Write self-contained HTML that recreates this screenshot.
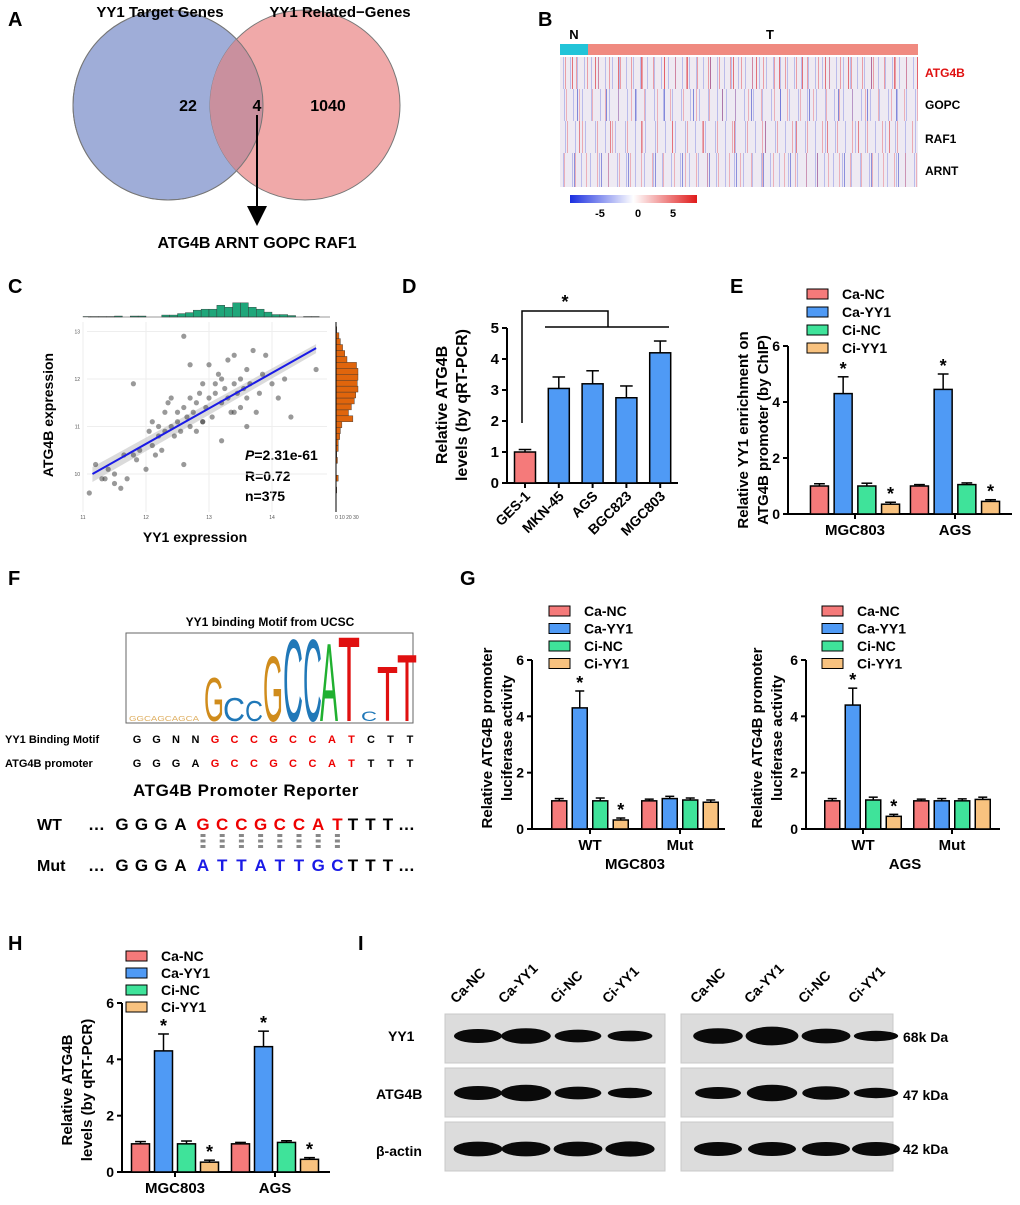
<!DOCTYPE html>
<html><head><meta charset="utf-8">
<style>
html,body{margin:0;padding:0;background:#fff;}
body{width:1020px;height:1205px;position:relative;overflow:hidden;font-family:"Liberation Sans",Arial,sans-serif;}
svg text{font-family:"Liberation Sans",Arial,sans-serif;}
.hm{position:absolute;left:560px;width:358px;height:32px;}
</style></head>
<body>
<div class="hm" style="top:57px;background:repeating-linear-gradient(90deg,transparent 0 5px,rgba(230,80,90,.5) 5px 6px,transparent 6px 11px),repeating-linear-gradient(90deg,transparent 0 3px,rgba(90,100,220,.35) 3px 4px,transparent 4px 7px),repeating-linear-gradient(90deg,transparent 0 12px,rgba(220,60,70,.7) 12px 13px,transparent 13px 23px),#efeaf2;"></div>
<div class="hm" style="top:89px;background:repeating-linear-gradient(90deg,transparent 0 4px,rgba(90,100,220,.35) 4px 5px,transparent 5px 9px),repeating-linear-gradient(90deg,transparent 0 6px,rgba(230,90,100,.4) 6px 7px,transparent 7px 13px),repeating-linear-gradient(90deg,transparent 0 17px,rgba(60,70,200,.6) 17px 18px,transparent 18px 29px),#eeeaf3;"></div>
<div class="hm" style="top:121px;background:repeating-linear-gradient(90deg,transparent 0 5px,rgba(90,100,220,.35) 5px 6px,transparent 6px 10px),repeating-linear-gradient(90deg,transparent 0 7px,rgba(230,90,100,.45) 7px 8px,transparent 8px 15px),repeating-linear-gradient(90deg,transparent 0 19px,rgba(220,60,70,.6) 19px 20px,transparent 20px 31px),#eeeaf3;"></div>
<div class="hm" style="top:153px;height:34px;background:repeating-linear-gradient(90deg,transparent 0 4px,rgba(230,90,100,.4) 4px 5px,transparent 5px 11px),repeating-linear-gradient(90deg,transparent 0 3px,rgba(90,100,220,.35) 3px 4px,transparent 4px 9px),repeating-linear-gradient(90deg,transparent 0 14px,rgba(60,70,200,.55) 14px 15px,transparent 15px 27px),#eeeaf3;"></div>

<svg id="fig" width="1020" height="1205" viewBox="0 0 1020 1205" style="position:absolute;left:0;top:0" font-weight="bold">
<defs>
<linearGradient id="cb" x1="0" x2="1"><stop offset="0" stop-color="#1a2ee0"/><stop offset="0.5" stop-color="#fff"/><stop offset="1" stop-color="#e01a1a"/></linearGradient>
</defs>
<g font-size="20">
<text x="8" y="26">A</text><text x="538" y="26">B</text><text x="8" y="293">C</text><text x="402" y="293">D</text>
<text x="730" y="293">E</text><text x="8" y="585">F</text><text x="460" y="585">G</text><text x="8" y="950">H</text><text x="358" y="950">I</text>
</g>
<g>
<circle cx="168" cy="105" r="95" fill="#9fadd8" stroke="#777" stroke-width="1"/>
<circle cx="305" cy="105" r="95" fill="#eea0a0" fill-opacity="0.9" stroke="#777" stroke-width="1"/>
<path d="M236.5,39 A95,95 0 0 1 236.5,171 A95,95 0 0 1 236.5,39Z" fill="#c9909e"/>
<circle cx="168" cy="105" r="95" fill="none" stroke="#777" stroke-width="1"/>
<text x="160" y="17" font-size="15" text-anchor="middle">YY1 Target Genes</text>
<text x="340" y="17" font-size="15" text-anchor="middle">YY1 Related−Genes</text>
<text x="188" y="111" font-size="16" text-anchor="middle">22</text>
<text x="257" y="111" font-size="16" text-anchor="middle">4</text>
<text x="328" y="111" font-size="16" text-anchor="middle">1040</text>
<line x1="257" y1="115" x2="257" y2="208" stroke="#000" stroke-width="2"/>
<polygon points="247,206 267,206 257,226" fill="#000"/>
<text x="257" y="248" font-size="16" text-anchor="middle">ATG4B ARNT GOPC RAF1</text>
</g>
<g>
<rect x="560" y="44" width="28" height="11" fill="#22c4d8"/>
<rect x="588" y="44" width="330" height="11" fill="#f08a80"/>
<text x="574" y="39" font-size="13" text-anchor="middle">N</text>
<text x="770" y="39" font-size="13" text-anchor="middle">T</text>
<text x="925" y="77" font-size="12" fill="#e01010">ATG4B</text>
<text x="925" y="109" font-size="12">GOPC</text>
<text x="925" y="143" font-size="12">RAF1</text>
<text x="925" y="175" font-size="12">ARNT</text>
<rect x="570" y="195" width="127" height="8" fill="url(#cb)"/>
<text x="600" y="217" font-size="11" text-anchor="middle">-5</text>
<text x="638" y="217" font-size="11" text-anchor="middle">0</text>
<text x="673" y="217" font-size="11" text-anchor="middle">5</text>
</g>
<g id="scatter">
<rect x="87" y="322" width="240" height="190" fill="#fff"/>
<text transform="translate(53,415) rotate(-90)" font-size="14" text-anchor="middle">ATG4B expression</text>
<text x="195" y="542" font-size="14" text-anchor="middle">YY1 expression</text>
<text x="245" y="460" font-size="14"><tspan font-style="italic">P</tspan>=2.31e-61</text>
<text x="245" y="481" font-size="14">R=0.72</text>
<text x="245" y="501" font-size="14">n=375</text>
</g>
<g>
<text x="270" y="626" font-size="12" text-anchor="middle">YY1 binding Motif from UCSC</text>
<rect x="126" y="633" width="287" height="90" fill="none" stroke="#666" stroke-width="1"/>
<g font-weight="normal">
<text x="129" y="721" font-size="7" fill="#d08c1c" fill-opacity="0.7" textLength="70" lengthAdjust="spacingAndGlyphs">GGCAGCAGCA</text>
<text x="204" y="721" font-size="62" fill="#d08c1c" textLength="20" lengthAdjust="spacingAndGlyphs">G</text>
<text x="223" y="721" font-size="33" fill="#2078b8" textLength="22" lengthAdjust="spacingAndGlyphs">C</text>
<text x="245" y="721" font-size="29" fill="#2078b8" textLength="18" lengthAdjust="spacingAndGlyphs">C</text>
<text x="263" y="721" font-size="93" fill="#d08c1c" textLength="20" lengthAdjust="spacingAndGlyphs">G</text>
<text x="283" y="721" font-size="117" fill="#2078b8" textLength="20" lengthAdjust="spacingAndGlyphs">C</text>
<text x="303" y="721" font-size="117" fill="#2078b8" textLength="19" lengthAdjust="spacingAndGlyphs">C</text>
<text x="320" y="721" font-size="111" fill="#20b030" textLength="18" lengthAdjust="spacingAndGlyphs">A</text>
<text x="338" y="721" font-size="121" fill="#e01010" textLength="22" lengthAdjust="spacingAndGlyphs">T</text>
<text x="361" y="721" font-size="14" fill="#2078b8" textLength="16" lengthAdjust="spacingAndGlyphs">C</text>
<text x="377" y="721" font-size="78" fill="#e01010" textLength="21" lengthAdjust="spacingAndGlyphs">T</text>
<text x="397" y="721" font-size="96" fill="#e01010" textLength="20" lengthAdjust="spacingAndGlyphs">T</text>
</g>
<text x="5" y="743" font-size="11">YY1 Binding Motif</text>
<text x="5" y="767" font-size="11">ATG4B promoter</text>
<text x="133" y="796" font-size="17" letter-spacing="0.6">ATG4B Promoter Reporter</text>
<text x="37" y="830" font-size="16">WT</text>
<text x="37" y="871" font-size="16">Mut</text>
</g>
<g id="charts"></g>
<g id="blots">
<text x="388" y="1041" font-size="14">YY1</text>
<text x="376" y="1099" font-size="14">ATG4B</text>
<text x="376" y="1156" font-size="14">β-actin</text>
<text x="903" y="1042" font-size="14">68k Da</text>
<text x="903" y="1100" font-size="14">47 kDa</text>
<text x="903" y="1154" font-size="14">42 kDa</text>
</g>
</svg>
<script>
const NS='http://www.w3.org/2000/svg';
function mk(tag,attrs,parent){const e=document.createElementNS(NS,tag);for(const k in attrs)e.setAttribute(k,attrs[k]);(parent||document.getElementById('fig')).appendChild(e);return e;}
function txt(s,attrs,parent){const e=mk('text',attrs,parent);e.textContent=s;return e;}

/* ===== Panel C data ===== */
const scatterX=[11.1,11.2,11.3,11.35,11.4,11.5,11.5,11.6,11.65,11.7,11.8,11.85,11.9,12.0,12.05,12.1,12.1,12.15,12.2,12.2,12.25,12.3,12.3,12.35,12.4,12.4,12.45,12.5,12.5,12.55,12.6,12.6,12.65,12.7,12.7,12.75,12.8,12.8,12.85,12.9,12.9,12.95,13.0,13.0,13.05,13.1,13.1,13.15,13.2,13.2,13.25,13.3,13.3,13.35,13.4,13.4,13.45,13.5,13.5,13.55,13.6,13.6,13.65,13.7,13.75,13.8,13.85,13.9,14.0,14.1,14.2,14.3,14.7,12.6,13.6,11.8,12.9,13.2,13.4,12.7];
const scatterY=[9.6,10.2,9.9,9.9,10.1,9.8,10.0,9.7,10.4,9.9,11.9,10.3,10.5,10.1,10.9,11.1,10.6,10.4,11.0,10.8,10.5,11.3,10.9,11.5,11.0,11.6,10.8,11.3,11.1,10.9,11.4,12.9,11.2,11.0,11.6,11.3,11.5,10.9,11.7,11.1,11.9,11.4,11.6,12.3,11.2,11.7,11.9,12.1,11.5,12.0,11.8,11.6,12.4,11.3,11.9,12.5,11.7,12.0,11.4,11.8,11.6,12.2,11.9,12.6,11.3,11.7,12.1,12.5,11.9,11.6,12.0,11.2,12.2,10.2,11.0,10.4,11.1,10.7,11.3,12.3];
const topHistCounts=[1,1,1,1,2,0,2,2,0,0,4,4,7,9,14,16,16,24,20,29,29,20,16,10,5,5,3,0,1,1];
const rightHistCounts=[1,0,3,0,0,2,1,3,3,5,6,8,23,17,21,25,27,30,29,30,30,28,15,12,9,6,4,1];
const xTicksC=[11,12,13,14];
const yTicksC=[10,11,12,13];
const fitLine=[[11.15,10.0],[14.7,12.65]];

(function(){
 const g=document.getElementById('scatter');
 const sx=v=>83+(v-11)*63, sy=v=>474-(v-10)*47.5;
 xTicksC.forEach(t=>{mk('line',{x1:sx(t),x2:sx(t),y1:322,y2:512,stroke:'#eee'},g);txt(String(t),{x:sx(t),y:519,'font-size':5,'font-weight':'normal','text-anchor':'middle',fill:'#555'},g);});
 yTicksC.forEach(t=>{mk('line',{x1:87,x2:327,y1:sy(t),y2:sy(t),stroke:'#eee'},g);txt(String(t),{x:80,y:sy(t)+2,'font-size':5,'font-weight':'normal','text-anchor':'end',fill:'#555'},g);});
 const [a,b]=fitLine;
 mk('polygon',{points:`${sx(a[0])},${sy(a[1])-7} ${sx(b[0])},${sy(b[1])-4} ${sx(b[0])},${sy(b[1])+5} ${sx(a[0])},${sy(a[1])+8}`,fill:'#ccc',opacity:0.7},g);
 scatterX.forEach((x,i)=>{const c=mk('circle',{cx:sx(x),cy:sy(scatterY[i]),r:2.6,fill:'#333','fill-opacity':0.5},g);
  
  });
 const ln=mk('line',{x1:sx(a[0]),y1:sy(a[1]),x2:sx(b[0]),y2:sy(b[1]),stroke:'#1a1ae6','stroke-width':2},g);
 
 
 const bw=0.125*63;
 topHistCounts.forEach((c,i)=>{const h=c/45*22;const r=mk('rect',{x:sx(11+i*0.125),y:317-h,width:bw,height:h,fill:'#1fa67a',stroke:'#333','stroke-width':0.4},g);
  
  });
 mk('line',{x1:88,x2:330,y1:317,y2:317,stroke:'#333','stroke-width':0.6},g);
 const bh=0.125*47.5;
 rightHistCounts.forEach((c,i)=>{const w=c/30*22;const r=mk('rect',{x:336,y:sy(9.6+(i+1)*0.125),width:w,height:bh,fill:'#e0650c',stroke:'#333','stroke-width':0.4},g);
  
  });
 mk('line',{x1:336,x2:336,y1:322,y2:512,stroke:'#000','stroke-width':1},g);
 txt('0 10 20 30',{x:335,y:519,'font-size':5,'font-weight':'normal',fill:'#555'},g);
})();

/* ===== Panel D data ===== */
const dCats=['GES-1','MKN-45','AGS','BGC823','MGC803'];
const dValues=[1.0,3.05,3.2,2.75,4.2];
const dErrors=[0.08,0.37,0.42,0.38,0.38];
const dColors=['#f57a7a','#4f9af5','#4f9af5','#4f9af5','#4f9af5'];
const dTicks=[0,1,2,3,4,5];

/* ===== Panels E, G, H data ===== */
const seriesNames=['Ca-NC','Ca-YY1','Ci-NC','Ci-YY1'];
const seriesColors=['#f57a7a','#4f9af5','#3fe39a','#f8c27f'];
const eCats=['MGC803','AGS'];
const eCaNC=[1.0,1.0], eCaYY1=[4.3,4.45], eCiNC=[1.0,1.05], eCiYY1=[0.35,0.45];
const gCats=['WT','Mut'];
const gLeftCaNC=[1.0,1.0], gLeftCaYY1=[4.3,1.08], gLeftCiNC=[1.0,1.03], gLeftCiYY1=[0.32,0.95];
const gRightCaNC=[1.0,1.0], gRightCaYY1=[4.4,1.0], gRightCiNC=[1.03,1.0], gRightCiYY1=[0.45,1.05];
const hCats=['MGC803','AGS'];
const hCaNC=[1.0,1.0], hCaYY1=[4.3,4.45], hCiNC=[1.0,1.05], hCiYY1=[0.35,0.45];
const errCaNC=[0.08,0.05], errCaYY1=[0.6,0.55], errCiNC=[0.1,0.06], errCiYY1=[0.07,0.06];
const groupedTicks=[0,2,4,6];

const C=document.getElementById('charts');
function axisY(ax,y0,yTop,max,ticks,name,fs){
 const s=v=>y0-(v/max)*(y0-yTop);
 const l=mk('line',{x1:ax,x2:ax,y1:y0,y2:yTop,stroke:'#000','stroke-width':2},C);
 
 
 ticks.forEach(t=>{mk('line',{x1:ax-5,x2:ax,y1:s(t),y2:s(t),stroke:'#000','stroke-width':2},C);
  txt(String(t),{x:ax-8,y:s(t)+5,'font-size':fs||14,'text-anchor':'end'},C);});
 return s;
}
function bar(x,w,y0,s,v,e,color,name,star){
 const r=mk('rect',{x:x-w/2,y:s(v),width:w,height:y0-s(v),fill:color,stroke:'#000','stroke-width':1.5},C);
 
 
 const top=s(v+e);
 mk('line',{x1:x,x2:x,y1:s(v),y2:top,stroke:'#000','stroke-width':1.5},C);
 mk('line',{x1:x-w*0.3,x2:x+w*0.3,y1:top,y2:top,stroke:'#000','stroke-width':1.5},C);
 if(star) txt('*',{x:x,y:top-2,'font-size':18,'text-anchor':'middle'},C);
}
function legend(x,y,dy,prefix){
 seriesNames.forEach((n,i)=>{const r=mk('rect',{x:x,y:y+i*dy-5,width:21,height:10,fill:seriesColors[i],stroke:'#000','stroke-width':1},C);
  
  
  txt(n,{x:x+35,y:y+i*dy+5,'font-size':14},C);});
}
function grouped(cfg){
 const s=axisY(cfg.ax,cfg.y0,cfg.yTop,6,groupedTicks,cfg.name);
 mk('line',{x1:cfg.ax,x2:cfg.xEnd,y1:cfg.y0,y2:cfg.y0,stroke:'#000','stroke-width':2},C);
 const sers=[cfg.s0,cfg.s1,cfg.s2,cfg.s3];
 cfg.centers.forEach((cx,gi)=>{
  sers.forEach((arr,si)=>{
   const x=cx+(si-1.5)*cfg.sp;
   const e=cfg.errs[si][gi];
   const star=(si===1&&arr[gi]>1.5)||(si===3&&arr[gi]<0.6);
   bar(x,cfg.bw,cfg.y0,s,arr[gi],e,seriesColors[si],cfg.name+'-bar-'+cfg.cats[gi].toLowerCase()+'-'+si,star);
  });
  mk('line',{x1:cx,x2:cx,y1:cfg.y0,y2:cfg.y0+5,stroke:'#000','stroke-width':2},C);
  txt(cfg.cats[gi],{x:cx,y:cfg.y0+21,'font-size':15,'text-anchor':'middle'},C);
 });
}

// Panel D
(function(){
 const ax=507,y0=483,yTop=328;
 const s=axisY(ax,y0,yTop,5,dTicks,'d',15);
 mk('line',{x1:ax,x2:678,y1:y0,y2:y0,stroke:'#000','stroke-width':2},C);
 const xs=i=>525+i*33.8;
 dCats.forEach((c,i)=>{
  bar(xs(i),21,y0,s,dValues[i],dErrors[i],dColors[i],'d-bar-'+c.toLowerCase(),false);
  mk('line',{x1:xs(i),x2:xs(i),y1:y0,y2:y0+5,stroke:'#000','stroke-width':2},C);
  txt(c,{x:xs(i)+6,y:y0+14,'font-size':14,'text-anchor':'end',transform:`rotate(-45 ${xs(i)+6} ${y0+14})`},C);
 });
 const br=mk('path',{d:'M522,423 L522,311 L608,311 L608,327 M545,327 L669,327',fill:'none',stroke:'#000','stroke-width':1.5},C);
 
 
 txt('*',{x:565,y:308,'font-size':18,'text-anchor':'middle'},C);
 txt('Relative ATG4B',{x:0,y:0,'font-size':16,'text-anchor':'middle',transform:'translate(447,405) rotate(-90)'},C);
 txt('levels (by qRT-PCR)',{x:0,y:0,'font-size':16,'text-anchor':'middle',transform:'translate(467,405) rotate(-90)'},C);
})();

const errs4=[errCaNC,errCaYY1,errCiNC,errCiYY1];
grouped({name:'e',ax:788,y0:514,yTop:346,xEnd:1012,centers:[855,955],sp:23.7,bw:18,cats:eCats,s0:eCaNC,s1:eCaYY1,s2:eCiNC,s3:eCiYY1,errs:errs4});
legend(807,294,18,'e');
txt('Relative YY1 enrichment on',{x:0,y:0,'font-size':15,'text-anchor':'middle',transform:'translate(748,430) rotate(-90)'},C);
txt('ATG4B promoter (by ChIP)',{x:0,y:0,'font-size':15,'text-anchor':'middle',transform:'translate(768,430) rotate(-90)'},C);
const errsG=[[0.08,0.06],[0.6,0.08],[0.1,0.07],[0.07,0.08]];
grouped({name:'g-left',ax:532,y0:829,yTop:660,xEnd:725,centers:[590,680],sp:20.5,bw:15,cats:gCats,s0:gLeftCaNC,s1:gLeftCaYY1,s2:gLeftCiNC,s3:gLeftCiYY1,errs:errsG});
grouped({name:'g-right',ax:806,y0:829,yTop:660,xEnd:1000,centers:[863,952],sp:20.5,bw:15,cats:gCats,s0:gRightCaNC,s1:gRightCaYY1,s2:gRightCiNC,s3:gRightCiYY1,errs:errsG});
legend(549,611,17.5,'g-left');
legend(822,611,17.5,'g-right');
txt('MGC803',{x:635,y:869,'font-size':15,'text-anchor':'middle'},C);
txt('AGS',{x:905,y:869,'font-size':15,'text-anchor':'middle'},C);
[[492,'Relative ATG4B promoter'],[512,'luciferase activity'],[762,'Relative ATG4B promoter'],[782,'luciferase activity']].forEach(([x,t])=>txt(t,{x:0,y:0,'font-size':15,'text-anchor':'middle',transform:`translate(${x},738) rotate(-90)`},C));
grouped({name:'h',ax:122,y0:1172,yTop:1003,xEnd:330,centers:[175,275],sp:23,bw:18,cats:hCats,s0:hCaNC,s1:hCaYY1,s2:hCiNC,s3:hCiYY1,errs:errs4});
legend(126,956,17,'h');
txt('Relative ATG4B',{x:0,y:0,'font-size':15,'text-anchor':'middle',transform:'translate(72,1090) rotate(-90)'},C);
txt('levels (by qRT-PCR)',{x:0,y:0,'font-size':15,'text-anchor':'middle',transform:'translate(92,1090) rotate(-90)'},C);

// Panel F sequences
(function(){
 const s1=[['G','#000'],['G','#000'],['N','#000'],['N','#000'],['G','#e00'],['C','#e00'],['C','#e00'],['G','#e00'],['C','#e00'],['C','#e00'],['A','#e00'],['T','#e00'],['C','#000'],['T','#000'],['T','#000']];
 const s2=[['G','#000'],['G','#000'],['G','#000'],['A','#000'],['G','#e00'],['C','#e00'],['C','#e00'],['G','#e00'],['C','#e00'],['C','#e00'],['A','#e00'],['T','#e00'],['T','#000'],['T','#000'],['T','#000']];
 const f=document.getElementById('fig');
 [[s1,743],[s2,767]].forEach(([s,y])=>s.forEach((c,i)=>txt(c[0],{x:137+i*19.5,y:y,'font-size':11,fill:c[1],'text-anchor':'middle'},f)));
 const wt='GCCGCCAT'.split(''), mt='ATTATTGC'.split('');
 [[wt,830,'#e00'],[mt,871,'#1a1ae6']].forEach(([s,y,col])=>{
  txt('…',{x:88,y:y,'font-size':17},f);
  'GGGA'.split('').forEach((c,i)=>txt(c,{x:122+i*19.5,y:y,'font-size':17,'text-anchor':'middle'},f));
  s.forEach((c,i)=>txt(c,{x:203+i*19.2,y:y,'font-size':17,'text-anchor':'middle',fill:col},f));
  'TTT'.split('').forEach((c,i)=>txt(c,{x:353+i*17.5,y:y,'font-size':17,'text-anchor':'middle'},f));
  txt('…',{x:398,y:y,'font-size':17},f);
 });
 wt.forEach((c,i)=>mk('line',{x1:203+i*19.2,x2:203+i*19.2,y1:834,y2:850,stroke:'#888','stroke-width':5,'stroke-dasharray':'3,2.5'},f));
})();

// Panel I blots
const blotLanes=['Ca-NC','Ca-YY1','Ci-NC','Ci-YY1'];
const yy1Left=[1.0,1.2,0.85,0.6], yy1Right=[1.2,1.6,1.1,0.55];
const atgLeft=[1.0,1.3,0.85,0.55], atgRight=[0.75,1.3,0.95,0.55];
const actinLeft=[1.1,1.1,1.1,1.15], actinRight=[1.0,1.0,1.0,1.0];
(function(){
 const g=document.getElementById('blots');
 const boxes=[[445,220,[478,526,578,630],[yy1Left,atgLeft,actinLeft]],[681,212,[718,772,826,876],[yy1Right,atgRight,actinRight]]];
 const rows=[[1014,49,1036],[1068,49,1093],[1122,49,1149]];
 boxes.forEach(([bx,bw,lanes,vals],bi)=>{
  rows.forEach(([ry,rh,by],ri)=>{
   const r=mk('rect',{x:bx,y:ry,width:bw,height:rh,fill:'#dcdcdc',stroke:'#c8c8c8'},g);
   
   
   lanes.forEach((lx,li)=>{const v=vals[ri][li];
    const e=mk('ellipse',{cx:lx,cy:by,rx:20+v*4,ry:3+v*4,fill:'#0a0a0a'},g);
    
    });
  });
  lanes.forEach((lx,li)=>txt(blotLanes[li],{x:lx-22,y:1004,'font-size':14,transform:`rotate(-45 ${lx-22} 1004)`},g));
 });
})();
</script>
</body></html>
